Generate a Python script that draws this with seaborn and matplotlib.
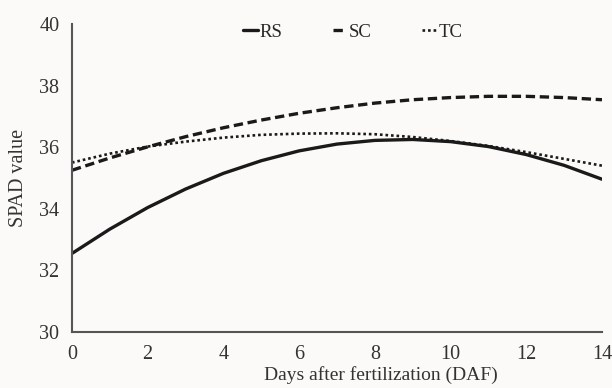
import numpy as np
import pandas as pd
import seaborn as sns
import matplotlib
matplotlib.use('Agg')
import matplotlib.pyplot as plt

# values
days = [0, 1, 2, 3, 4, 5, 6, 7, 8, 9, 10, 11, 12, 13, 14]
rs = [32.55, 33.34, 34.04, 34.64, 35.15, 35.56, 35.88, 36.10, 36.22, 36.25,
      36.18, 36.02, 35.76, 35.41, 34.96]
sc = [35.25, 35.65, 36.01, 36.34, 36.63, 36.88, 37.10, 37.28, 37.43, 37.54,
      37.61, 37.65, 37.65, 37.61, 37.54]
tc = [35.50, 35.79, 36.02, 36.18, 36.31, 36.40, 36.44, 36.45, 36.42, 36.33,
      36.20, 36.04, 35.84, 35.62, 35.40]

x_ticks = [0, 2, 4, 6, 8, 10, 12, 14]
y_ticks = [30, 32, 34, 36, 38, 40]

bg = '#fcfaf8'
fs = 14.5
sns.set_style('white')
plt.rcParams['font.family'] = ['Liberation Serif', 'DejaVu Serif']

fig = plt.figure(figsize=(6.12, 3.88), dpi=100, facecolor=bg)
ax = fig.add_axes([0.1176, 0.1443, 0.866, 0.794])
ax.set_facecolor(bg)

df = pd.DataFrame({'DAF': days, 'RS': rs, 'SC': sc, 'TC': tc})

sns.lineplot(data=df, x='DAF', y='RS', ax=ax, color='#1a1a1a', lw=2.4, label='RS')
sns.lineplot(data=df, x='DAF', y='SC', ax=ax, color='#1a1a1a', lw=2.4,
             linestyle=(0, (2.8, 1.4)), label='SC')
sns.lineplot(data=df, x='DAF', y='TC', ax=ax, color='#1a1a1a', lw=1.9,
             linestyle=(0, (1, 1.1)), label='TC')

ax.set_xlim(0, 14)
ax.set_ylim(30, 40)
ax.set_xticks(x_ticks)
ax.set_yticks(y_ticks)
ax.tick_params(labelsize=fs, length=0, pad=9, colors='#333333')
ax.set_xlabel('Days after fertilization (DAF)', fontsize=14, color='#333333')
ax.xaxis.set_label_coords(0.583, -0.112)
ax.set_ylabel('SPAD value', fontsize=fs, color='#333333', labelpad=8)

for s in ['top', 'right']:
    ax.spines[s].set_visible(False)
for s in ['left', 'bottom']:
    ax.spines[s].set_color('#555555')
    ax.spines[s].set_linewidth(1.5)

leg = ax.legend(loc='upper center', bbox_to_anchor=(0.53, 1.055), ncol=3, frameon=False,
                fontsize=13.5, handlelength=0.75, handletextpad=0.1, columnspacing=2.7)

fig.savefig('out.png', dpi=100, facecolor=bg)
